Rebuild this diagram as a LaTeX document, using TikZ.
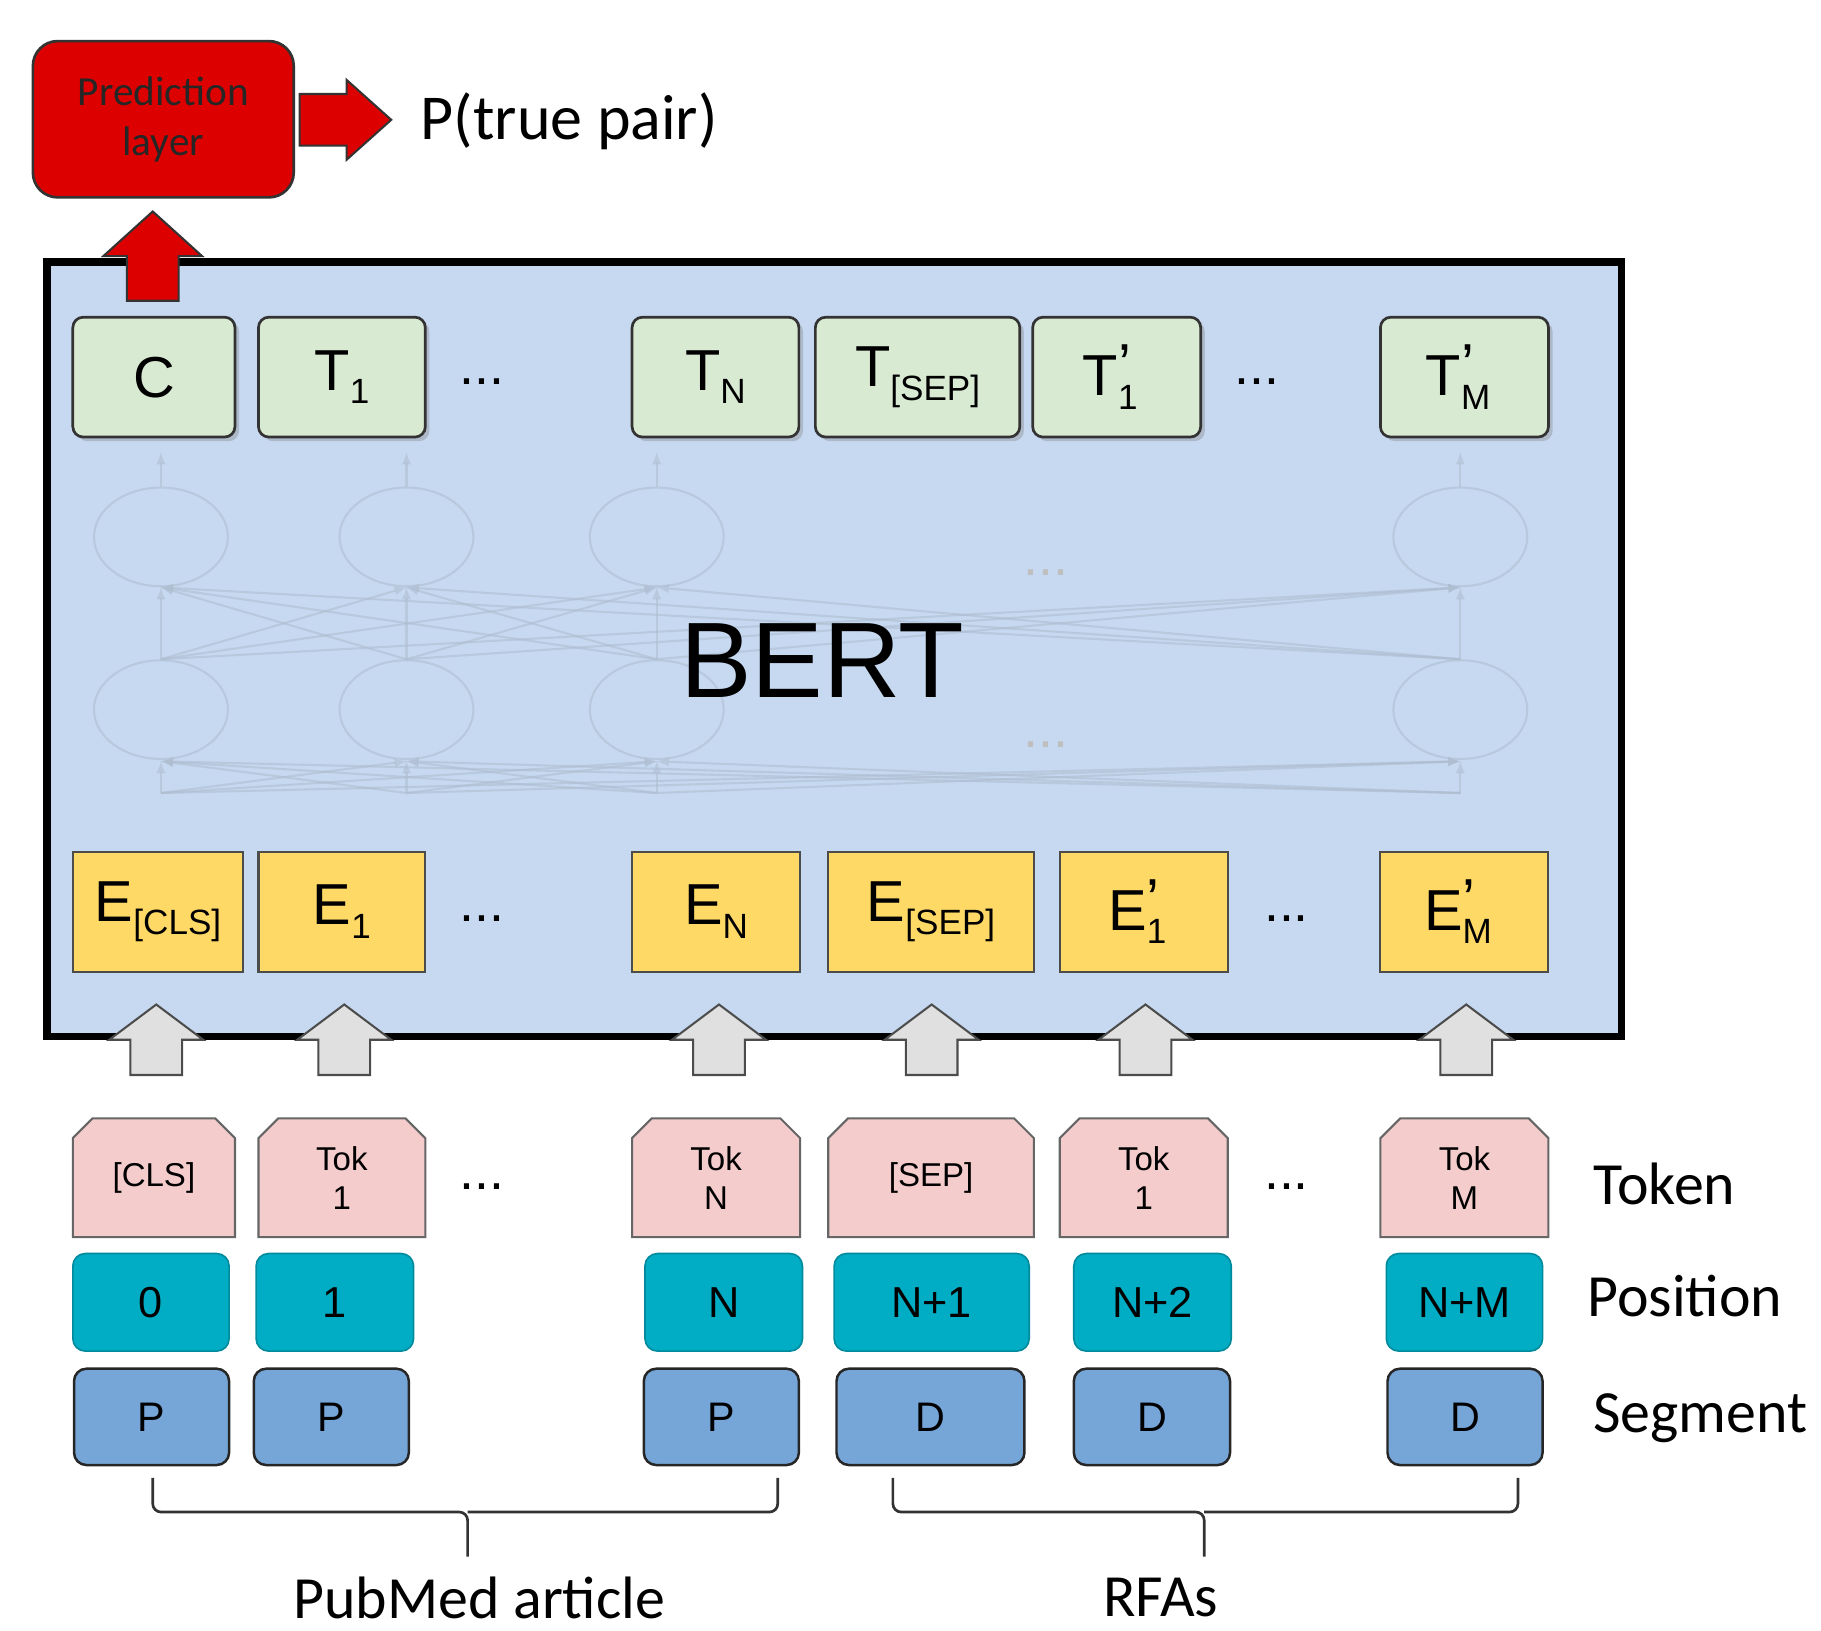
\documentclass[tikz,border=0pt]{standalone}
\usepackage{fontspec}
\setmainfont{Liberation Sans}
\newfontfamily\calfnt{Carlito}
\usetikzlibrary{shapes.misc,shapes.geometric,shadows}
\definecolor{bertbg}{HTML}{C6D9F1}
\definecolor{tgreen}{HTML}{D9EAD3}
\definecolor{eyellow}{HTML}{FFD966}
\definecolor{tokpink}{HTML}{F4CCCC}
\definecolor{posteal}{HTML}{00ADC4}
\definecolor{segblue}{HTML}{76A5D8}
\definecolor{predred}{HTML}{DD0000}
\definecolor{netgray}{HTML}{AFBDD0}
\newcommand\lowr[1]{\raisebox{-0.45ex}{\fontsize{17}{17}\selectfont #1}}
\newcommand\tsp[3]{#1\rlap{\lowr{#2}}\raisebox{0.35ex}{#3}\hphantom{\lowr{#2}}}
\newcommand\mybox[7]{\node[#1,minimum width={(#4-#3)*0.02cm},minimum height={(#6-#5)*0.02cm}] (#2) at ({(#3+#4)/2},{(#5+#6)/2}) {#7};}
\tikzset{
 mybase/.style={draw,inner sep=0pt,align=center},
 mytbox/.style={mybase,fill=tgreen,rounded corners=5pt,line width=1.3pt,draw=black!80,drop shadow={opacity=0.35,shadow xshift=2pt,shadow yshift=-2pt},font=\fontsize{28}{28}\selectfont},
 myebox/.style={mybase,fill=eyellow,line width=1pt,draw=black!70,font=\fontsize{28}{28}\selectfont},
 mytok/.style={mybase,chamfered rectangle,chamfered rectangle corners={north west,north east},chamfered rectangle xsep=6pt,fill=tokpink,draw=black!60,line width=1pt,font=\fontsize{16}{19}\selectfont},
 myposbox/.style={mybase,fill=posteal,draw=posteal!80!black,rounded corners=6pt,line width=0.8pt,font=\fontsize{21}{21}\selectfont},
 myseg/.style={mybase,fill=segblue,draw=black!85,rounded corners=6pt,line width=1.2pt,font=\fontsize{20}{20}\selectfont},
 mylbl/.style={font=\calfnt\fontsize{29}{29}\selectfont},
 mydots/.style={font=\fontsize{26}{26}\selectfont},
 mynet/.style={draw=netgray,line width=1pt,opacity=0.6},
 myneur/.style={draw=netgray,line width=1pt,opacity=0.6,ellipse,minimum width=2.28cm,minimum height=1.68cm,inner sep=0},
 mygrayarr/.style={fill=black!12,draw=black!70,line width=1pt,line join=miter},
 mybrace/.style={draw=black!80,line width=1.3pt,rounded corners=4pt}
}
\begin{document}
\begin{tikzpicture}[x=0.02cm,y=-0.02cm]
\useasboundingbox (0,0) rectangle (1550,1388);
% BERT box
\draw[fill=bertbg,line width=3.5pt] (40,223) rectangle (1380,882);
% network
\foreach \x in {137,346,559,1243}{
 \node[myneur] (u\x) at (\x,457) {};
 \node[myneur] (l\x) at (\x,604) {};
 \draw[mynet,-latex] (u\x.north) -- (\x,385);
}
\foreach \a in {137,346,559,1243}{\foreach \b in {137,346,559,1243}{
 \draw[mynet,-latex] (\a,675) -- (\b,648);
 \draw[mynet,-latex] (l\a.north) -- (\b,500);
}}
\node[mydots,text=black!25] at (890,487) {...};
\node[mydots,text=black!25] at (890,634) {...};
\node[font=\fontsize{52}{52}\selectfont] (bert) at (700,562) {BERT};
% top T boxes
\mybox{mytbox}{c}{62}{200}{270}{372}{C}
\mybox{mytbox}{t1}{220}{362}{270}{372}{\tsp{T}{1}{}}
\mybox{mytbox}{tn}{538}{680}{270}{372}{\tsp{T}{N}{}}
\mybox{mytbox}{tsep}{694}{868}{270}{372}{\tsp{T}{[SEP]}{}}
\mybox{mytbox}{t1p}{879}{1022}{270}{372}{\tsp{T}{1}{’}}
\mybox{mytbox}{tmp}{1175}{1318}{270}{372}{\tsp{T}{M}{’}}
\node[mydots] at (410,325) {...};
\node[mydots] at (1070,325) {...};
% E boxes
\mybox{myebox}{ecls}{62}{207}{725}{827}{\tsp{E}{[CLS]}{}}
\mybox{myebox}{e1}{220}{362}{725}{827}{\tsp{E}{1}{}}
\mybox{myebox}{en}{538}{681}{725}{827}{\tsp{E}{N}{}}
\mybox{myebox}{esep}{705}{880}{725}{827}{\tsp{E}{[SEP]}{}}
\mybox{myebox}{e1p}{902}{1045}{725}{827}{\tsp{E}{1}{’}}
\mybox{myebox}{emp}{1175}{1318}{725}{827}{\tsp{E}{M}{’}}
\node[mydots] at (410,782) {...};
\node[mydots] at (1095,782) {...};
% gray arrows
\foreach \x in {133,293,612,793,975,1248}{
 \draw[mygrayarr] (\x,855) -- (\x+40,885) -- (\x+22,885) -- (\x+22,915) -- (\x-22,915) -- (\x-22,885) -- (\x-40,885) -- cycle;
}
% tokens
\mybox{mytok}{kcls}{62}{200}{952}{1053}{[CLS]}
\mybox{mytok}{k1}{220}{362}{952}{1053}{Tok\\1}
\mybox{mytok}{kn}{538}{681}{952}{1053}{Tok\\N}
\mybox{mytok}{ksep}{705}{880}{952}{1053}{[SEP]}
\mybox{mytok}{k1p}{902}{1045}{952}{1053}{Tok\\1}
\mybox{mytok}{kmp}{1175}{1318}{952}{1053}{Tok\\M}
\node[mydots] at (410,1010) {...};
\node[mydots] at (1095,1010) {...};
% positions
\mybox{myposbox}{p0}{62}{195}{1067}{1150}{0}
\mybox{myposbox}{p1}{218}{352}{1067}{1150}{1}
\mybox{myposbox}{pn}{549}{683}{1067}{1150}{N}
\mybox{myposbox}{pn1}{710}{876}{1067}{1150}{N+1}
\mybox{myposbox}{pn2}{914}{1048}{1067}{1150}{N+2}
\mybox{myposbox}{pnm}{1180}{1313}{1067}{1150}{N+M}
% segments
\mybox{myseg}{s1}{63}{195}{1165}{1247}{P}
\mybox{myseg}{s2}{216}{348}{1165}{1247}{P}
\mybox{myseg}{s3}{548}{680}{1165}{1247}{P}
\mybox{myseg}{s4}{712}{872}{1165}{1247}{D}
\mybox{myseg}{s5}{914}{1047}{1165}{1247}{D}
\mybox{myseg}{s6}{1181}{1313}{1165}{1247}{D}
% row labels
\node[mylbl,anchor=west] (ltok) at (1350,1008) {Token};
\node[mylbl,anchor=west] (lpos) at (1345,1103) {Position};
\node[mylbl,anchor=west] (lseg) at (1350,1207) {Segment};
% braces
\draw[mybrace] (130,1258) -- (130,1287) -- (398,1287) -- (398,1325);
\draw[mybrace] (398,1287) -- (662,1287) -- (662,1258);
\draw[mybrace] (760,1258) -- (760,1287) -- (1025,1287) -- (1025,1325);
\draw[mybrace] (1025,1287) -- (1292,1287) -- (1292,1258);
\node[mylbl] (pub) at (408,1360) {PubMed article};
\node[mylbl] (rfa) at (988,1360) {RFAs};
% prediction
\mybox{mybase,fill=predred,draw=black!80,rounded corners=12pt,line width=1.3pt,font=\calfnt\fontsize{20}{24}\selectfont,text=black!85}{pred}{28}{250}{35}{168}{Prediction\\layer}
\draw[fill=predred,draw=black!80,line width=1pt] (255,80) -- (295,80) -- (295,68) -- (333,102) -- (295,136) -- (295,124) -- (255,124) -- cycle;
\node[mylbl,anchor=west,font=\calfnt\fontsize{31}{31}\selectfont] (ptp) at (352,103) {P(true pair)};
\draw[fill=predred,draw=black!80,line width=1pt] (130,180) -- (172,218) -- (152,218) -- (152,256) -- (108,256) -- (108,218) -- (88,218) -- cycle;
\end{tikzpicture}
\end{document}
